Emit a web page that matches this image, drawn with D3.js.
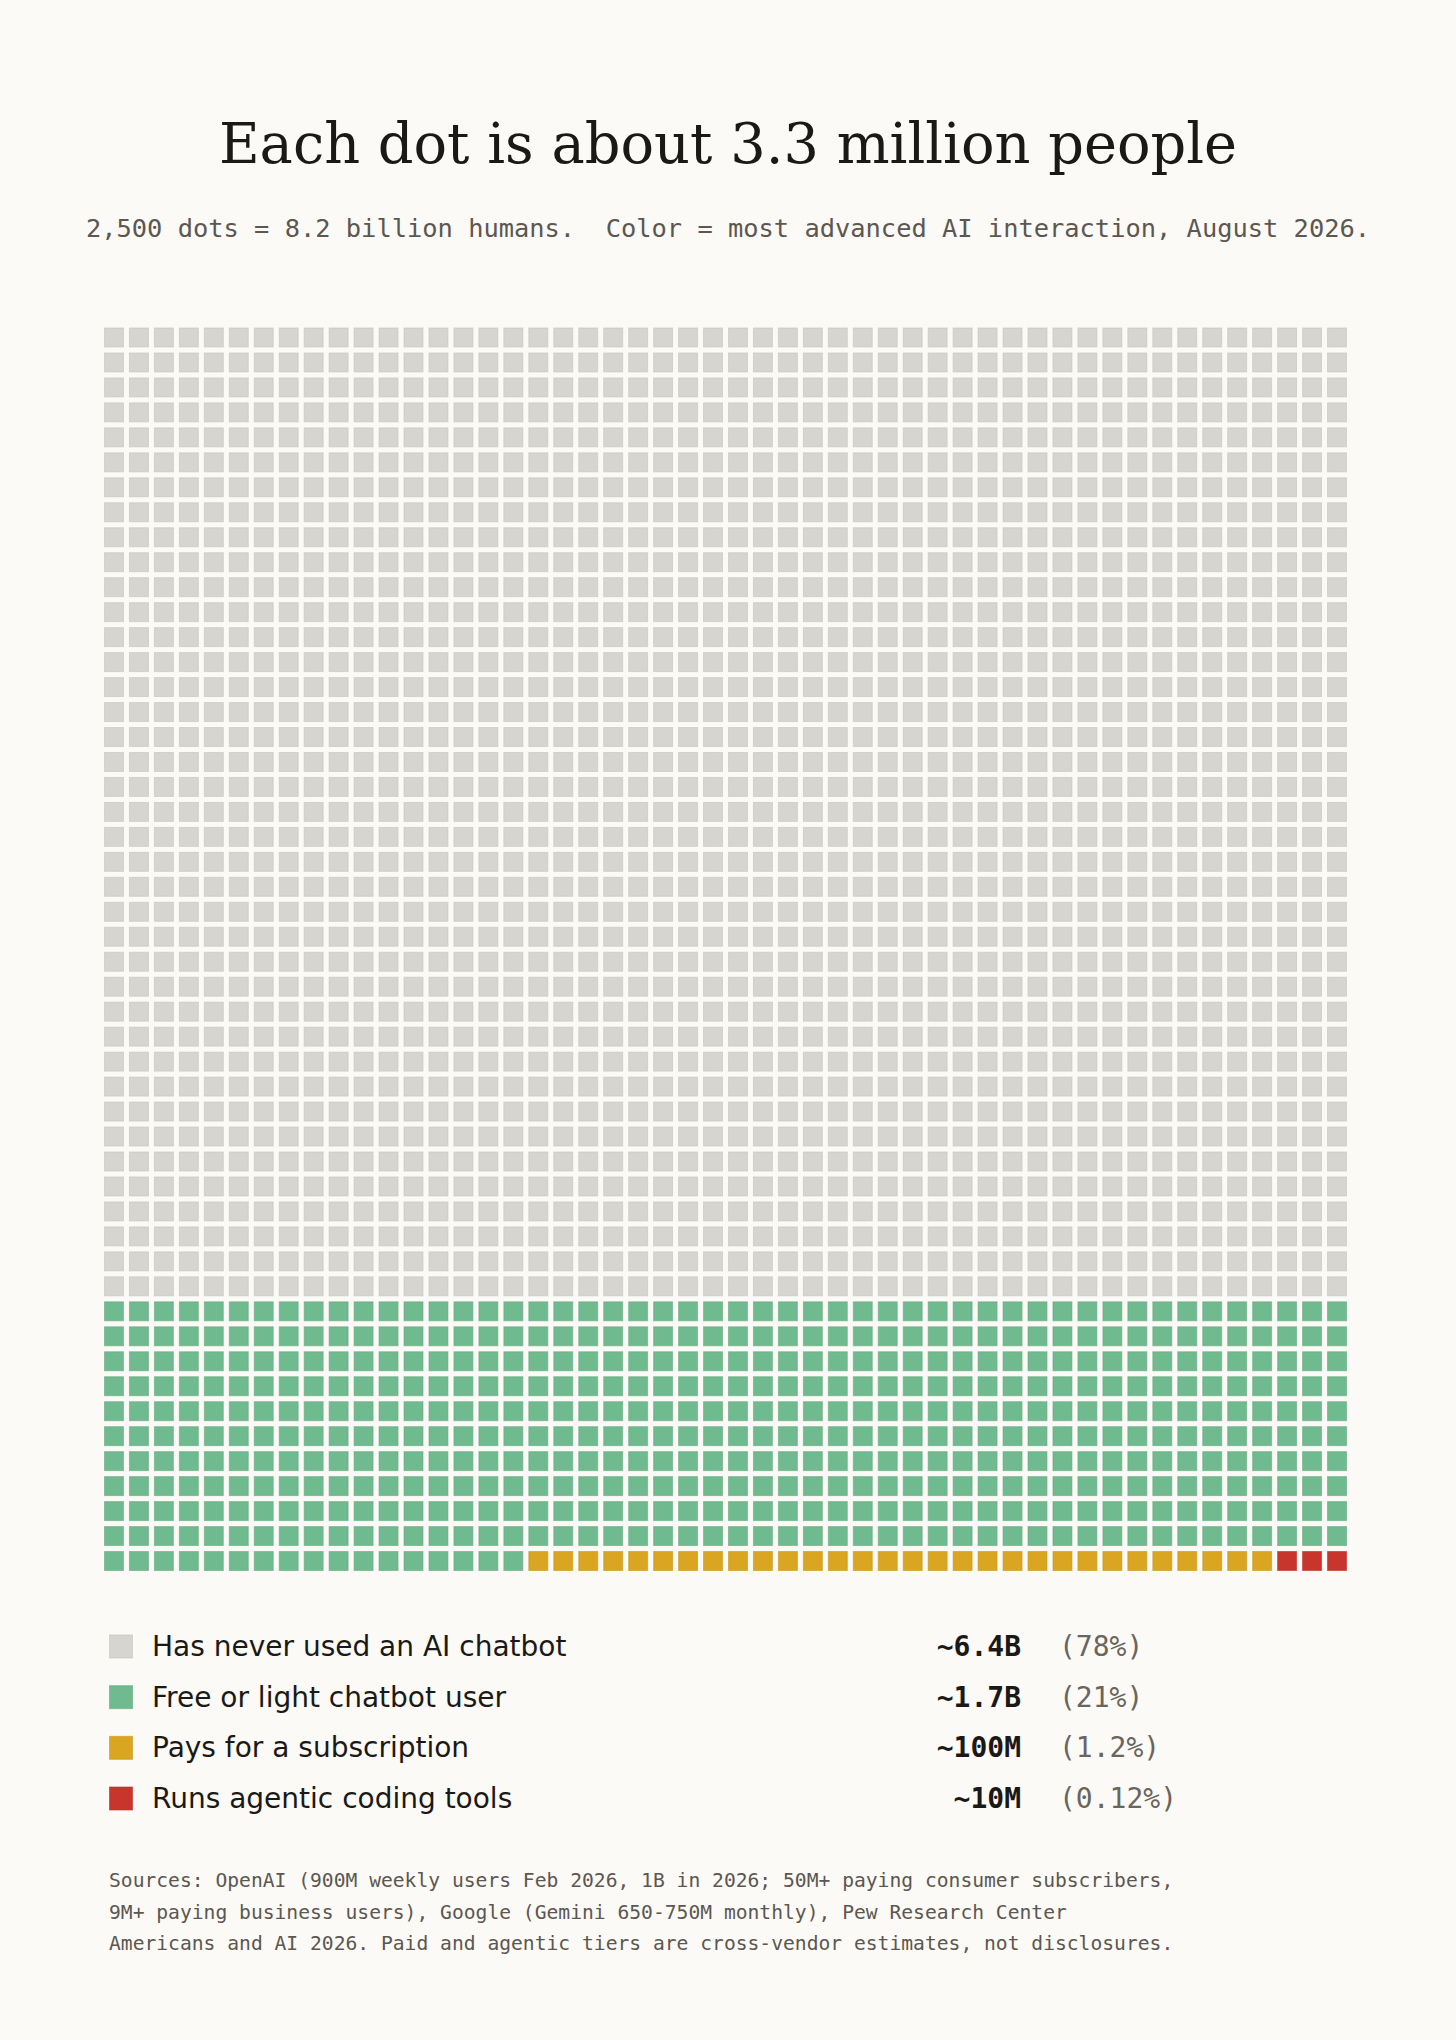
<!DOCTYPE html>
<html>
<meta charset="utf-8">
<head>
  <title>Each dot is about 3.3 million people</title>
</head>

<style>
body {
  margin: 0;
  background: #fbfaf6;
}
.title {
  font-family: "DejaVu Serif", serif;
  font-size: 55.8px;
  fill: #1a1917;
  text-anchor: middle;
}
.subtitle {
  font-family: "DejaVu Sans Mono", monospace;
  font-size: 25.4px;
  fill: #5c5751;
  text-anchor: middle;
  white-space: pre;
}
.legend-label {
  font-family: "DejaVu Sans", sans-serif;
  font-size: 28px;
  fill: #1a1917;
}
.legend-value {
  font-family: "DejaVu Sans Mono", monospace;
  font-weight: bold;
  font-size: 28px;
  fill: #1a1917;
  text-anchor: end;
}
.legend-share {
  font-family: "DejaVu Sans Mono", monospace;
  font-size: 28px;
  fill: #6a655e;
}
.source {
  font-family: "DejaVu Sans Mono", monospace;
  font-size: 19.65px;
  fill: #5c5751;
}
</style>

<body>
  <svg width="1456" height="2040"></svg>

  <script src="https://cdnjs.cloudflare.com/ajax/libs/d3/7.8.5/d3.min.js"></script>

  <script>
var width = 1456, height = 2040

// categories, in the order the dots are filled
var categories = [
  'Has never used an AI chatbot',
  'Free or light chatbot user',
  'Pays for a subscription',
  'Runs agentic coding tools'
]
// number of dots per category (2,500 total)
var dotCounts = [1950, 517, 30, 3]
var valueLabels = ['~6.4B', '~1.7B', '~100M', '~10M']
var shareLabels = ['(78%)', '(21%)', '(1.2%)', '(0.12%)']
var colors = ['#d7d5cf', '#6fba8e', '#daa520', '#c8352d']

var sourceLines = [
  'Sources: OpenAI (900M weekly users Feb 2026, 1B in 2026; 50M+ paying consumer subscribers,',
  '9M+ paying business users), Google (Gemini 650-750M monthly), Pew Research Center',
  'Americans and AI 2026. Paid and agentic tiers are cross-vendor estimates, not disclosures.'
]

var cols = 50, rows = 50

var svg = d3.select('svg')

svg.append('rect')
  .attr('width', width)
  .attr('height', height)
  .attr('fill', '#fbfaf6')

svg.append('text')
  .attr('class', 'title')
  .attr('x', width / 2)
  .attr('y', 163)
  .text('Each dot is about 3.3 million people')

svg.append('text')
  .attr('class', 'subtitle')
  .attr('x', width / 2)
  .attr('y', 237)
  .attr('xml:space', 'preserve')
  .text('2,500 dots = 8.2 billion humans.  Color = most advanced AI interaction, August 2026.')

// one entry per dot, filled row by row
var dots = []
categories.forEach(function(c, i) {
  for (var k = 0; k < dotCounts[i]; k++) dots.push({cat: i})
})
dots.forEach(function(d, i) {
  d.col = i % cols
  d.row = Math.floor(i / cols)
})

var x = d3.scaleBand()
  .domain(d3.range(cols))
  .range([104, 1347])
  .paddingInner(0.2)

var y = d3.scaleBand()
  .domain(d3.range(rows))
  .range([327.5, 1571])
  .paddingInner(0.2)

var color = d3.scaleOrdinal()
  .domain(d3.range(categories.length))
  .range(colors)

svg.append('g')
  .attr('class', 'dots')
  .selectAll('rect')
  .data(dots)
  .enter()
  .append('rect')
  .attr('x', function(d) { return x(d.col) + 0.5 })
  .attr('y', function(d) { return y(d.row) + 0.5 })
  .attr('width', x.bandwidth() - 1)
  .attr('height', y.bandwidth() - 1)
  .attr('fill', function(d) { return color(d.cat) })
  .attr('stroke', function(d) { return d3.color(color(d.cat)).darker(0.25) })
  .attr('stroke-opacity', 0.6)
  .attr('stroke-width', 1)

// legend
var legendY = d3.scalePoint()
  .domain(d3.range(categories.length))
  .range([1656, 1808])

var legend = svg.append('g')
  .attr('class', 'legend')
  .selectAll('g')
  .data(categories)
  .enter()
  .append('g')
  .attr('transform', function(d, i) { return 'translate(0,' + legendY(i) + ')' })

legend.append('rect')
  .attr('x', 109.5)
  .attr('y', -21)
  .attr('width', 23)
  .attr('height', 23)
  .attr('fill', function(d, i) { return color(i) })
  .attr('stroke', function(d, i) { return d3.color(color(i)).darker(0.25) })
  .attr('stroke-opacity', 0.6)

legend.append('text')
  .attr('class', 'legend-label')
  .attr('x', 152)
  .text(function(d) { return d })

legend.append('text')
  .attr('class', 'legend-value')
  .attr('x', 1021)
  .text(function(d, i) { return valueLabels[i] })

legend.append('text')
  .attr('class', 'legend-share')
  .attr('x', 1059)
  .text(function(d, i) { return shareLabels[i] })

// sources
svg.append('g')
  .selectAll('text')
  .data(sourceLines)
  .enter()
  .append('text')
  .attr('class', 'source')
  .attr('x', 109)
  .attr('y', function(d, i) { return 1887 + i * 31.7 })
  .text(function(d) { return d })

  </script>
</body>
</html>
